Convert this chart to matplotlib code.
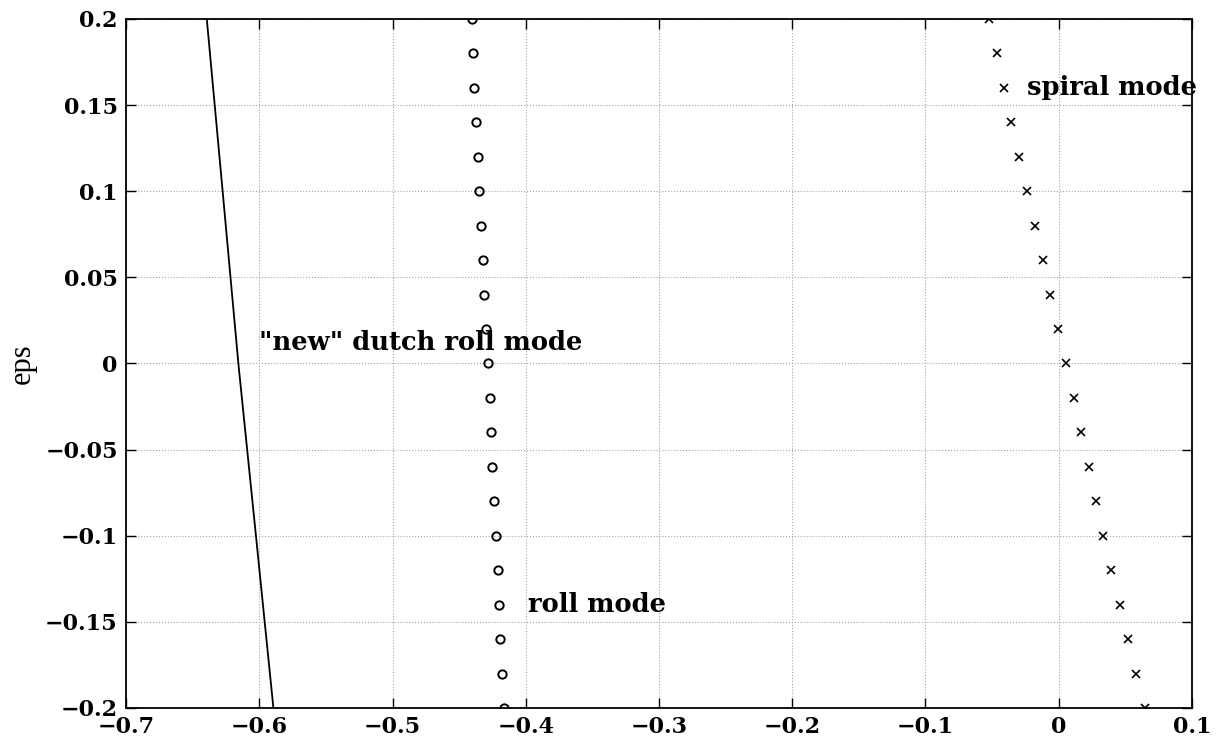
import numpy as np
import matplotlib
matplotlib.use("Agg")
import matplotlib.pyplot as plt

# eigenvalue loci vs eps
eps_vals = [0.20, 0.18, 0.16, 0.14, 0.12, 0.10, 0.08, 0.06, 0.04, 0.02, 0.00,
            -0.02, -0.04, -0.06, -0.08, -0.10, -0.12, -0.14, -0.16, -0.18, -0.20]

roll_mode = [-0.4405, -0.4395, -0.4385, -0.4370, -0.4360, -0.4348, -0.4335,
             -0.4320, -0.4310, -0.4295, -0.4285, -0.4270, -0.4260, -0.4250,
             -0.4235, -0.4225, -0.4210, -0.4200, -0.4190, -0.4175, -0.4160]

spiral_mode = [-0.0520, -0.0465, -0.0410, -0.0355, -0.0300, -0.0238, -0.0180,
               -0.0120, -0.0065, -0.0005, 0.0055, 0.0115, 0.0170, 0.0225,
               0.0280, 0.0335, 0.0393, 0.0458, 0.0520, 0.0583, 0.0650]

dutch_eps = [0.20, 0.10, 0.00, -0.10, -0.20]
dutch_roll = [-0.6394, -0.6275, -0.6157, -0.6025, -0.5894]

xticks = [-0.7, -0.6, -0.5, -0.4, -0.3, -0.2, -0.1, 0, 0.1]
yticks = [-0.2, -0.15, -0.1, -0.05, 0, 0.05, 0.1, 0.15, 0.2]

plt.rcParams["font.family"] = ["DejaVu Serif"]
plt.rcParams["axes.unicode_minus"] = True

fig = plt.figure(figsize=(12.19, 7.5), dpi=100)
ax = fig.add_axes([0.1034, 0.056, 0.8744, 0.9187])

ax.plot(dutch_roll, dutch_eps, color="black", linewidth=1.3)
ax.plot(roll_mode, eps_vals, linestyle="none", marker="o", markersize=6,
        markerfacecolor="none", markeredgecolor="black", markeredgewidth=1.4)
ax.plot(spiral_mode, eps_vals, linestyle="none", marker="x", markersize=6,
        color="black", markeredgewidth=1.2)

lbl = dict(fontsize=18.5, fontweight="bold", va="center", ha="left")
ax.text(-0.600, 0.012, '"new" dutch roll mode', **lbl)
ax.text(-0.398, -0.140, "roll mode", **lbl)
ax.text(-0.0238, 0.160, "spiral mode", **lbl)

ax.set_xlim(-0.7, 0.1)
ax.set_ylim(-0.2, 0.2)
ax.set_xticks(xticks)
ax.set_yticks(yticks)
ax.set_xticklabels([f"{t:g}".replace("-", "\u2212") for t in xticks], fontweight="bold")
ax.set_yticklabels([f"{t:g}".replace("-", "\u2212") for t in yticks], fontweight="bold")
ax.tick_params(direction="in", top=True, right=True, length=7, width=1,
               labelsize=16, pad=6)
ax.grid(True, linestyle=":", color="0.65", linewidth=0.8)
for s in ax.spines.values():
    s.set_linewidth(1.3)

ax.set_ylabel("eps", fontsize=22, family="Liberation Serif", labelpad=6)

fig.savefig("out.png", dpi=100)
